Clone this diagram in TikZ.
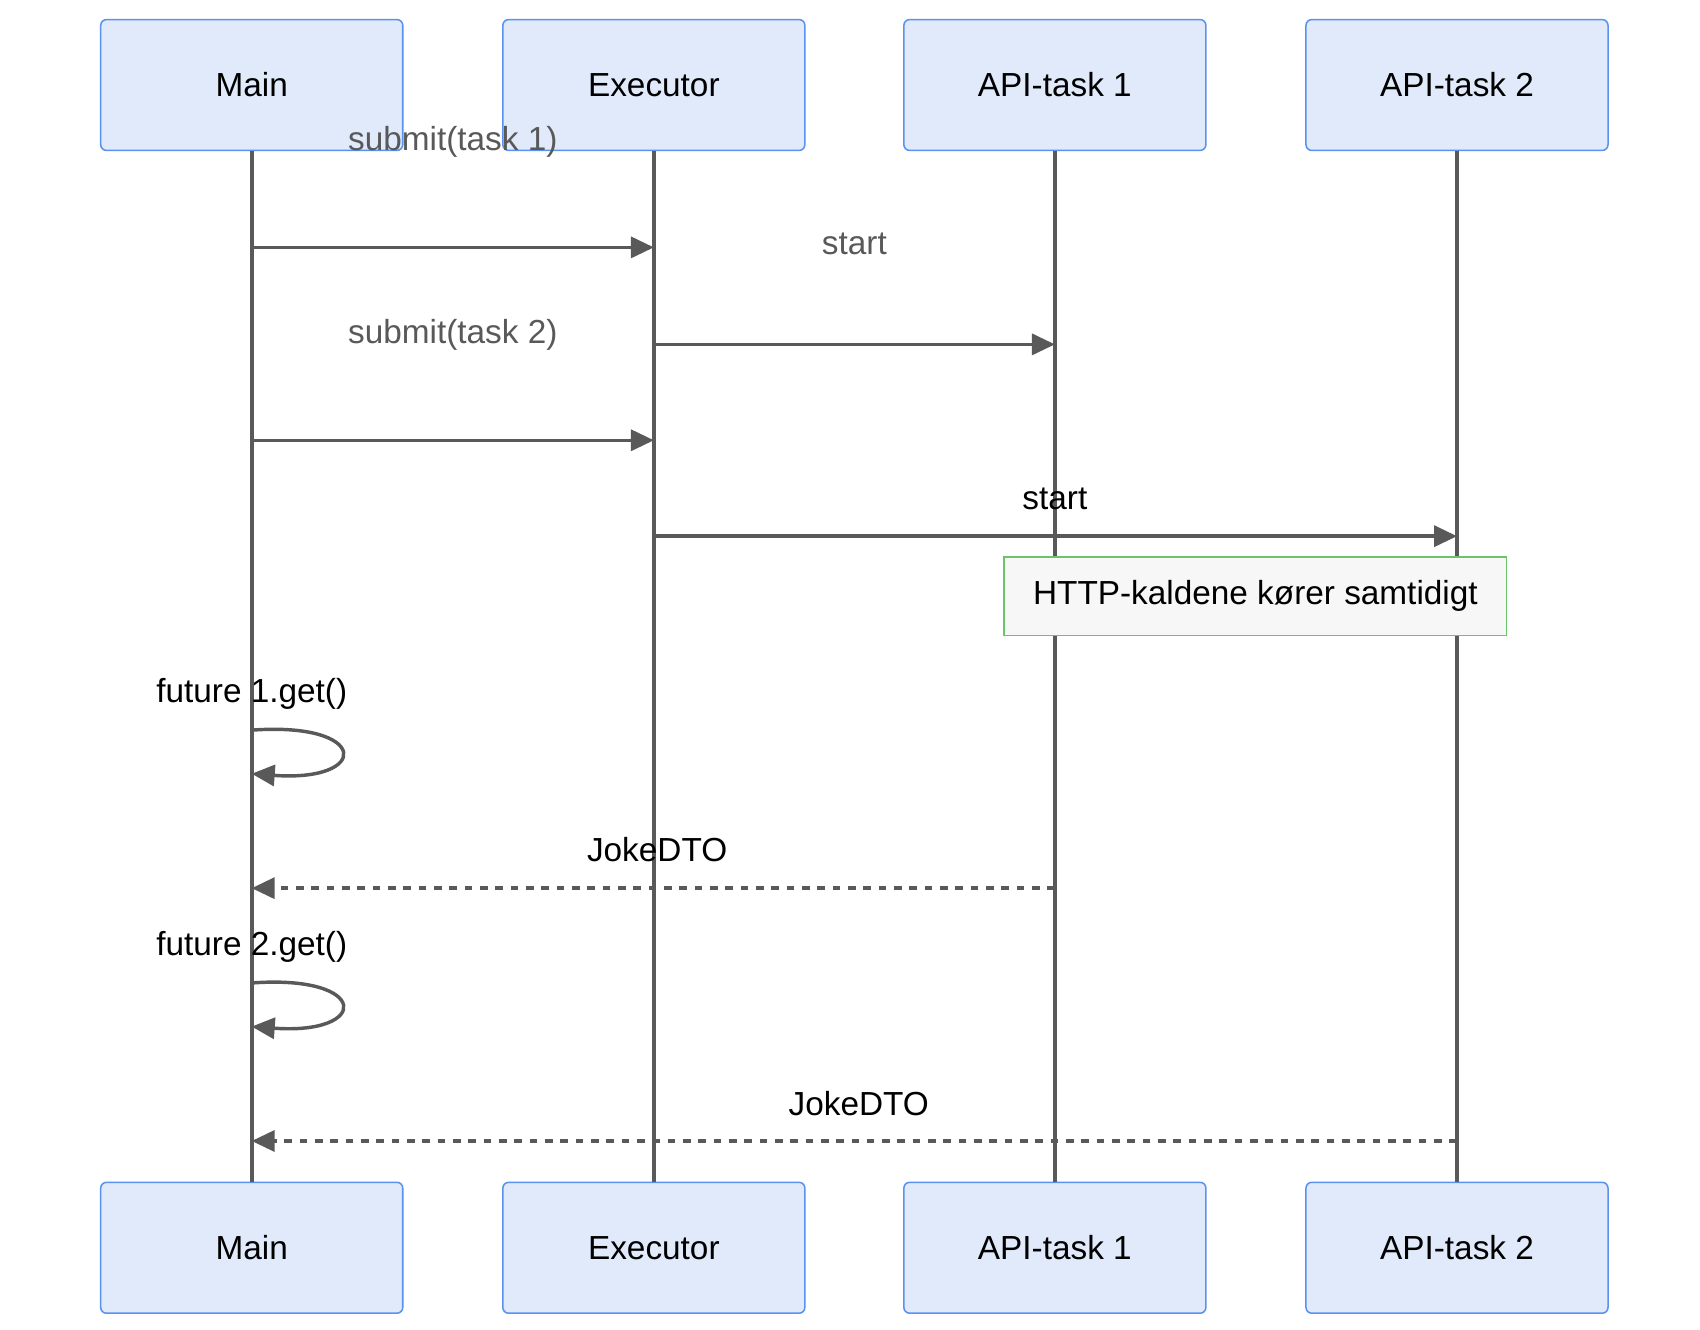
\documentclass[tikz,border=0pt]{standalone}
\usepackage{fontspec}
\setmainfont{Liberation Sans}
\usetikzlibrary{arrows.meta}
\definecolor{actfill}{HTML}{E0EAFA}
\definecolor{actdraw}{HTML}{5A92EE}
\definecolor{msgline}{HTML}{595959}
\definecolor{notefill}{HTML}{F7F7F7}
\definecolor{notedraw}{HTML}{6BC46B}
\begin{document}
\begin{tikzpicture}[x=0.01cm,y=-0.01cm,
	actor/.style={draw=actdraw,fill=actfill,rounded corners=1.5pt,minimum width=2.77cm,minimum height=1.2cm,font=\fontsize{8.7}{10}\selectfont},
	life/.style={msgline,line width=1.1pt},
	msg/.style={msgline,line width=0.9pt,-{Triangle[length=6pt,width=5.5pt]}},
	reply/.style={msg,dash pattern=on 2pt off 2pt},
	lbl/.style={font=\fontsize{8.7}{10}\selectfont,inner sep=0pt}]
	\useasboundingbox (0,0) rectangle (1560,1220);
	% actors
	\node[actor](mainT) at (231,78){Main};
	\node[actor](execT) at (600,78){Executor};
	\node[actor](apiaT) at (968,78){API-task 1};
	\node[actor](apibT) at (1337,78){API-task 2};
	\node[actor](mainB) at (231,1145){Main};
	\node[actor](execB) at (600,1145){Executor};
	\node[actor](apiaB) at (968,1145){API-task 1};
	\node[actor](apibB) at (1337,1145){API-task 2};
	% lifelines
	\draw[life](mainT)--(mainB);
	\draw[life](execT)--(execB);
	\draw[life](apiaT)--(apiaB);
	\draw[life](apibT)--(apibB);
	% message points
	\coordinate(m1) at (231,227); \coordinate(e1) at (600,227);
	\coordinate(e2) at (600,316); \coordinate(a2) at (968,316);
	\coordinate(m3) at (231,404); \coordinate(e3) at (600,404);
	\coordinate(e4) at (600,492); \coordinate(b4) at (1337,492);
	\coordinate(m5) at (231,670); \coordinate(m5e) at (231,710);
	\coordinate(a6) at (968,815); \coordinate(m6) at (231,815);
	\coordinate(m7) at (231,902); \coordinate(m7e) at (231,942);
	\coordinate(b8) at (1337,1047); \coordinate(m8) at (231,1047);
	% messages
	\draw[msg](m1)--node[lbl,above=23pt]{submit(task 1)}(e1);
	\draw[msg](e2)--node[lbl,above=23pt]{start}(a2);
	\draw[msg](m3)--node[lbl,above=23pt]{submit(task 2)}(e3);
	\draw[msg](e4)--node[lbl,above=23pt,pos=0.5]{}(b4);
	\node[lbl](lstart) at (968,458){start};
	\node[draw=notedraw,fill=notefill,minimum width=4.61cm,minimum height=0.72cm,font=\fontsize{8.7}{10}\selectfont](note) at (1152,547){HTTP-kaldene kører samtidigt};
	\node[lbl](lf1) at (231,637){future 1.get()};
	\draw[msg](m5) .. controls (340,662) and (340,718) .. (m5e);
	\draw[reply](a6)--(m6);
	\node[lbl](lj1) at (603,780){JokeDTO};
	\node[lbl](lf2) at (231,869){future 2.get()};
	\draw[msg](m7) .. controls (340,894) and (340,950) .. (m7e);
	\draw[reply](b8)--(m8);
	\node[lbl](lj2) at (788,1013){JokeDTO};
\end{tikzpicture}
\end{document}
